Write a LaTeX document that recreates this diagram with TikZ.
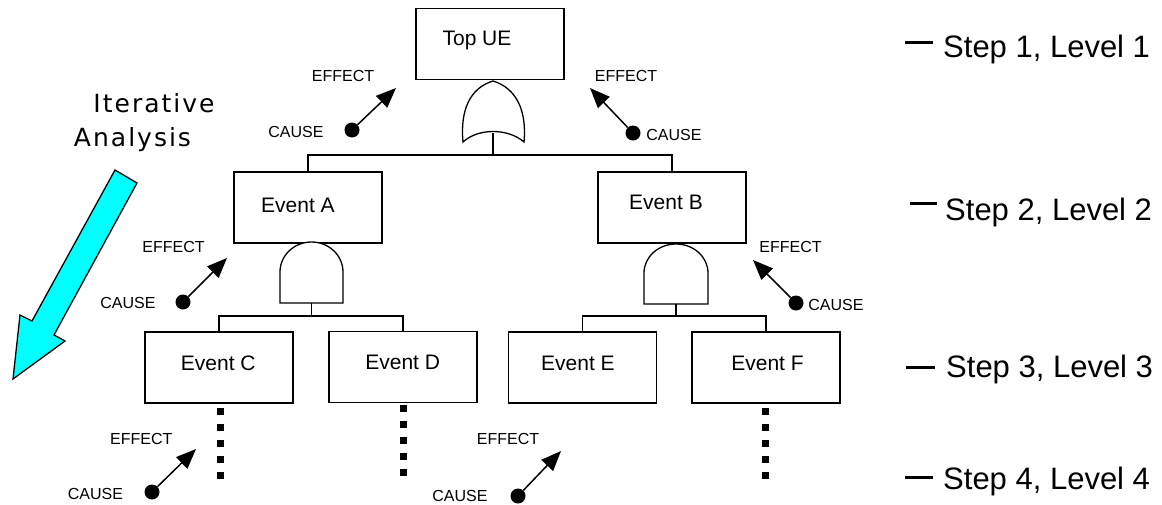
\documentclass[tikz,border=0pt]{standalone}
\usepackage{fontspec}
\setmainfont{Liberation Sans}
\newfontfamily\iterfont[LetterSpace=8]{DejaVu Sans}
\usetikzlibrary{arrows.meta,calc}
\definecolor{aqua}{RGB}{0,255,255}
\begin{document}
\begin{tikzpicture}[x=1pt,y=-1pt,
  evbox/.style={draw,line width=1.3pt,minimum width=148pt,minimum height=71pt,inner sep=0pt},
  evtext/.style={anchor=base,inner sep=0pt,font=\fontsize{21}{25}\selectfont},
  cetext/.style={anchor=base,inner sep=0pt,font=\fontsize{16}{19}\selectfont},
  steptext/.style={anchor=base west,inner sep=0pt,font=\fontsize{31}{36}\selectfont},
  itertext/.style={anchor=base,inner sep=0pt,font=\iterfont\fontsize{25}{30}\selectfont},
  wire/.style={line width=1.3pt},
  gate/.style={draw,line width=1.3pt,fill=white},
  causedot/.style={circle,fill=black,inner sep=0pt,minimum size=15pt},
  celine/.style={line width=1.5pt,-{Triangle[length=20pt,width=16pt]}},
  dotline/.style={line width=7pt,dash pattern=on 7pt off 9pt},
  levdash/.style={line width=3pt},
  bigarrow/.style={draw,line width=1.3pt,fill=aqua,line join=miter}
]
\fill[white] (0,0) rectangle (1162,504);
\useasboundingbox (0,0) rectangle (1162,504);

% ---- event boxes
\node[evbox] (T) at (490,44) {};
\node[evbox] (A) at (308,207.5) {};
\node[evbox] (B) at (672,207.5) {};
\node[evbox] (C) at (219,367.5) {};
\node[evbox] (D) at (403,367) {};
\node[evbox] (E) at (582.5,367.5) {};
\node[evbox] (F) at (766,367.5) {};

\node[evtext] (tT) at (477,45.7) {Top UE};
\node[evtext] (tA) at (298,212) {Event A};
\node[evtext] (tB) at (666,209) {Event B};
\node[evtext] (tC) at (218.3,370.5) {Event C};
\node[evtext] (tD) at (402.7,369.5) {Event D};
\node[evtext] (tE) at (578,370.5) {Event E};
\node[evtext] (tF) at (767.5,370.5) {Event F};

% ---- OR gate under Top UE
\draw[gate] (463,142) .. controls (460,110) and (470,88) .. (493,81)
  .. controls (516,88) and (527,110) .. (524,142)
  .. controls (508,128) and (478,128) .. (463,142) -- cycle;
\coordinate (orIn) at (493,132.5);
\coordinate (bus1) at (493,155);
\draw[wire] (orIn) -- (bus1);
\draw[wire] (A.north) |- (bus1) -| (B.north);

% ---- AND gate under Event A
\draw[gate] (280,303) -- (280,272) .. controls (280,255.4) and (294.1,242) .. (311.5,242)
  .. controls (328.9,242) and (343,255.4) .. (343,272) -- (343,303) -- cycle;
\coordinate (andAin) at (311.5,303);
\coordinate (bus2) at (311.5,316);
\draw[wire] (andAin) -- (bus2);
\draw[wire] (C.north) |- (bus2) -| (D.north);

% ---- AND gate under Event B
\draw[gate] (644,304) -- (644,273) .. controls (644,257) and (658.3,244) .. (676,244)
  .. controls (693.7,244) and (708,257) .. (708,273) -- (708,304) -- cycle;
\coordinate (andBin) at (676,304);
\coordinate (bus3) at (676,316);
\draw[wire] (andBin) -- (bus3);
\draw[wire] (E.north) |- (bus3) -| (F.north);

% ---- continuation (dotted) lines
\draw[dotline] ($(C.south)+(1,4)$) -- ++(0,71);
\draw[dotline] ($(D.south)+(0,2)$) -- ++(0,71);
\draw[dotline] ($(F.south)+(-1,4)$) -- ++(0,71);

% ---- cause -> effect arrows
\node[causedot] (c1) at (352,130) {};
\coordinate (e1) at (396,88);
\draw[celine] (c1) -- (e1);
\node[cetext] (le1) at (343,81.7) {EFFECT};
\node[cetext] (lc1) at (296,137.7) {CAUSE};

\node[causedot] (c2) at (633,133) {};
\coordinate (e2) at (590,88);
\draw[celine] (c2) -- (e2);
\node[cetext] (le2) at (626,81.7) {EFFECT};
\node[cetext] (lc2) at (674,140) {CAUSE};

\node[causedot] (c3) at (183,302) {};
\coordinate (e3) at (227,258);
\draw[celine] (c3) -- (e3);
\node[cetext] (le3) at (173.5,252.7) {EFFECT};
\node[cetext] (lc3) at (128,308.7) {CAUSE};

\node[causedot] (c4) at (796,303) {};
\coordinate (e4) at (753,260);
\draw[celine] (c4) -- (e4);
\node[cetext] (le4) at (790.5,252.2) {EFFECT};
\node[cetext] (lc4) at (836,310.7) {CAUSE};

\node[causedot] (c5) at (152,492) {};
\coordinate (e5) at (196,449);
\draw[celine] (c5) -- (e5);
\node[cetext] (le5) at (141.3,444.2) {EFFECT};
\node[cetext] (lc5) at (95.5,499.7) {CAUSE};

\node[causedot] (c6) at (518,496) {};
\coordinate (e6) at (561,451);
\draw[celine] (c6) -- (e6);
\node[cetext] (le6) at (508,444.7) {EFFECT};
\node[cetext] (lc6) at (460,501.7) {CAUSE};

% ---- iterative analysis arrow
\node[itertext] (it1) at (154,112.4) {Iterative};
\node[itertext] (it2) at (132.5,146.1) {Analysis};
\draw[bigarrow] (115,170) -- (32,321) -- (20,315) -- (13,379) -- (65,341) -- (54,335) -- (137,183) -- cycle;

% ---- step / level markers
\node[steptext] (s1) at (943,57.1) {Step 1, Level 1};
\node[steptext] (s2) at (945,220.1) {Step 2, Level 2};
\node[steptext] (s3) at (946,377.1) {Step 3, Level 3};
\node[steptext] (s4) at (943,489.1) {Step 4, Level 4};
\draw[levdash] (905,42) -- (933,42);
\draw[levdash] (910,203) -- (937,203);
\draw[levdash] (906,367) -- (935,367);
\draw[levdash] (905,477) -- (933,477);
\end{tikzpicture}
\end{document}
